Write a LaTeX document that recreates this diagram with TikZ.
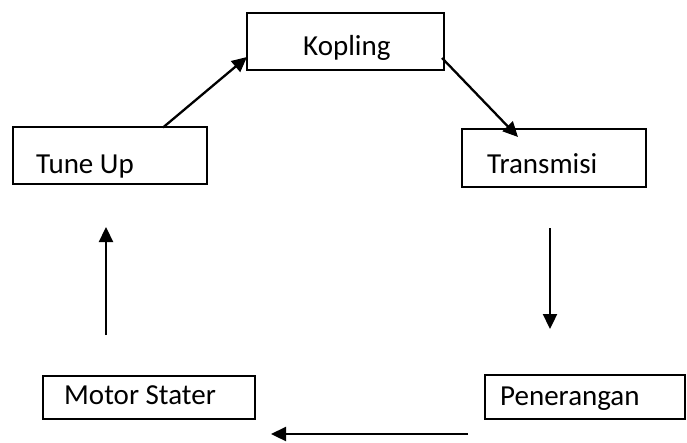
\documentclass[tikz,border=0pt]{standalone}
\usepackage{fontspec}
\setmainfont{Carlito}
\usetikzlibrary{arrows.meta,calc}
\begin{document}
\begin{tikzpicture}[x=1pt,y=-1pt,
  box/.style={draw=black,line width=1.9pt,minimum width=#1,inner sep=0pt,rectangle},
  lbl/.style={inner sep=0pt,anchor=base west,font=\fontsize{29}{34}\selectfont},
  arr/.style={line width=2.3pt,-{Triangle[length=15pt,width=14pt]}}]
\useasboundingbox (0,0) rectangle (687,442);
\node[box=197pt,minimum height=57pt] (kop) at (345.5,41.5) {};
\node[box=194pt,minimum height=57pt] (tune) at (110,155.5) {};
\node[box=184pt,minimum height=58pt] (trans) at (554,158) {};
\node[box=212pt,minimum height=43pt] (motor) at (149,397.5) {};
\node[box=200pt,minimum height=44pt] (pen) at (585,397) {};
\node[lbl] (tkop) at (303,55) {Kopling};
\node[lbl] (ttune) at (36,173) {Tune Up};
\node[lbl] (ttrans) at (487,173) {Transmisi};
\node[lbl] (tmotor) at (64,404) {Motor Stater};
\node[lbl] (tpen) at (500,405) {Penerangan};
% arrow ends
\coordinate (a1s) at (163,127.5);
\coordinate (a1e) at (247,57);
\coordinate (a2s) at (442,58);
\coordinate (a2e) at (518,137);
\coordinate (a3s) at (550,228);
\coordinate (a3e) at (550,329);
\coordinate (a4s) at (468,434);
\coordinate (a4e) at (271,434);
\coordinate (a5s) at (106,335);
\coordinate (a5e) at (106,227);
\draw[arr] (a1s) -- (a1e);
\draw[arr] (a2s) -- (a2e);
\draw[arr] (a3s) -- (a3e);
\draw[arr] (a4s) -- (a4e);
\draw[arr] (a5s) -- (a5e);
\end{tikzpicture}
\end{document}
